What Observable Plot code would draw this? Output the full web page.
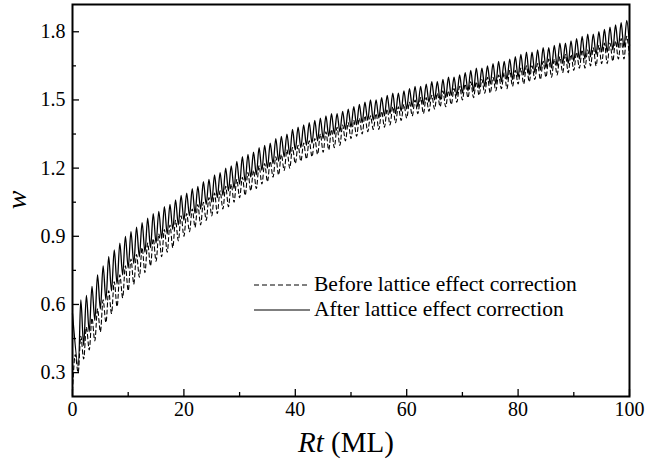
<!DOCTYPE html>
<html><head><meta charset="utf-8">
<script src="https://cdn.jsdelivr.net/npm/d3@7"></script>
<script src="https://cdn.jsdelivr.net/npm/@observablehq/plot@0.6"></script>
<style>
body{margin:0;background:#fff;}
#wrap{position:relative;width:645px;height:470px;font-family:"Liberation Serif","Times New Roman",Times,"DejaVu Serif",serif;color:#000;}
#wrap svg text{font-family:"Liberation Serif","Times New Roman",Times,"DejaVu Serif",serif;}
.lbl{position:absolute;white-space:nowrap;}
</style></head>
<body><div id="wrap"></div>
<script>
// Start values at Rt = 0
const solidStart = 0.56;
const dashedStart = 0.22;
// "After" (solid): troughs at Rt = 1..100, peaks at Rt = 1.5..99.5
const solidTrough = [0.33,0.42,0.48,0.53,0.58,0.62,0.66,0.69,0.73,0.76,
0.78,0.81,0.83,0.85,0.87,0.89,0.91,0.93,0.95,0.97,
0.99,1.00,1.02,1.04,1.05,1.07,1.08,1.10,1.11,1.13,
1.14,1.16,1.17,1.19,1.20,1.22,1.23,1.25,1.26,1.28,
1.29,1.30,1.31,1.32,1.33,1.34,1.35,1.36,1.37,1.38,
1.39,1.40,1.41,1.41,1.42,1.43,1.44,1.44,1.45,1.46,
1.47,1.47,1.48,1.49,1.50,1.50,1.51,1.52,1.52,1.53,
1.54,1.54,1.55,1.56,1.57,1.57,1.58,1.59,1.59,1.60,
1.61,1.61,1.62,1.63,1.64,1.64,1.65,1.66,1.66,1.67,
1.68,1.68,1.69,1.70,1.71,1.71,1.72,1.73,1.73,1.74];
const solidPeak = [0.62,0.64,0.68,0.73,0.77,0.81,0.84,0.87,0.90,0.92,
0.94,0.96,0.98,1.00,1.01,1.03,1.04,1.06,1.08,1.09,
1.11,1.12,1.14,1.15,1.17,1.18,1.20,1.21,1.23,1.25,
1.26,1.27,1.29,1.30,1.31,1.33,1.34,1.35,1.37,1.38,
1.39,1.40,1.41,1.42,1.43,1.44,1.44,1.45,1.46,1.47,
1.48,1.49,1.50,1.50,1.51,1.52,1.53,1.53,1.54,1.55,
1.56,1.56,1.57,1.58,1.58,1.59,1.60,1.60,1.61,1.62,
1.63,1.64,1.64,1.65,1.66,1.67,1.67,1.68,1.69,1.70,
1.71,1.71,1.72,1.73,1.73,1.74,1.75,1.75,1.76,1.77,
1.78,1.79,1.79,1.80,1.81,1.82,1.83,1.84,1.85];
// "Before" (dashed): troughs at Rt = 1..100, peaks at Rt = 0.5..99.5
const dashedTrough = [0.30,0.36,0.40,0.44,0.48,0.52,0.56,0.59,0.63,0.66,
0.69,0.72,0.74,0.77,0.79,0.81,0.83,0.85,0.88,0.90,
0.92,0.94,0.95,0.97,0.99,1.00,1.02,1.03,1.05,1.07,
1.08,1.10,1.11,1.13,1.14,1.16,1.17,1.19,1.20,1.22,
1.23,1.24,1.25,1.26,1.27,1.28,1.29,1.30,1.32,1.33,
1.34,1.35,1.36,1.37,1.37,1.38,1.39,1.40,1.41,1.42,
1.43,1.44,1.44,1.45,1.46,1.47,1.47,1.48,1.49,1.50,
1.51,1.51,1.52,1.53,1.53,1.54,1.55,1.55,1.56,1.57,
1.57,1.58,1.59,1.59,1.60,1.60,1.61,1.62,1.62,1.63,
1.64,1.64,1.65,1.65,1.66,1.66,1.67,1.68,1.68,1.69];
const dashedPeak = [0.38,0.46,0.50,0.54,0.58,0.62,0.66,0.70,0.73,0.77,
0.80,0.82,0.85,0.87,0.89,0.91,0.93,0.95,0.97,0.99,
1.00,1.02,1.04,1.05,1.07,1.09,1.10,1.12,1.13,1.15,
1.16,1.18,1.19,1.21,1.22,1.23,1.25,1.26,1.28,1.29,
1.30,1.31,1.32,1.33,1.35,1.36,1.37,1.38,1.39,1.40,
1.41,1.42,1.43,1.43,1.44,1.45,1.46,1.47,1.47,1.48,
1.49,1.50,1.51,1.51,1.52,1.53,1.54,1.54,1.55,1.56,
1.57,1.58,1.58,1.59,1.60,1.60,1.61,1.62,1.63,1.63,
1.64,1.65,1.65,1.66,1.67,1.68,1.68,1.69,1.70,1.70,
1.71,1.72,1.72,1.73,1.74,1.75,1.75,1.76,1.77,1.78];

const xMajor = [0,20,40,60,80,100];
const xMinor = [10,30,50,70,90];
const yMajor = [0.3,0.6,0.9,1.2,1.5,1.8];
const yMinor = [0.45,0.75,1.05,1.35,1.65];
const legendLabels = ["Before lattice effect correction","After lattice effect correction"];

// Build point tables
const solid = [{x:0,y:solidStart}];
for (let k = 1; k <= 100; k++) {
  solid.push({x:k, y:solidTrough[k-1]});
  if (k <= 99) solid.push({x:k+0.5, y:solidPeak[k-1]});
}
const dashed = [{x:0,y:dashedStart}];
for (let k = 0; k < 100; k++) {
  dashed.push({x:k+0.5, y:dashedPeak[k]});
  dashed.push({x:k+1, y:dashedTrough[k]});
}

const FONT = '"Liberation Serif","Times New Roman",Times,"DejaVu Serif",serif';
const chart = Plot.plot({
  width: 645, height: 470,
  marginLeft: 72, marginRight: 16, marginTop: 4, marginBottom: 74,
  style: {fontFamily: FONT, fontSize: "20px", color: "#000", background: "#fff"},
  x: {domain: [0,100]},
  y: {domain: [0.195, 1.92]},
  marks: [
    Plot.line(dashed, {x:"x", y:"y", curve:"catmull-rom", stroke:"#000", strokeWidth:1.1, strokeDasharray:"4,3"}),
    Plot.line(solid, {x:"x", y:"y", curve:"catmull-rom", stroke:"#000", strokeWidth:1.3}),
    Plot.axisX(xMajor, {tickSize:-7, tickPadding:12, tickFormat: d => d, label:null, strokeWidth:1.3, fontSize:20}),
    Plot.axisX(xMinor, {tickSize:-4, tickFormat: () => "", label:null, strokeWidth:1.3}),
    Plot.axisY(yMajor, {tickSize:-7, tickPadding:14, tickFormat: d => d.toFixed(1), label:null, strokeWidth:1.3, fontSize:20}),
    Plot.axisY(yMinor, {tickSize:-4, tickFormat: () => "", label:null, strokeWidth:1.3}),
    Plot.frame({stroke:"#000", strokeWidth:2})
  ]
});
const wrap = document.getElementById("wrap");
wrap.appendChild(chart);

function addLabel(html, css) {
  const d = document.createElement("div");
  d.className = "lbl";
  d.innerHTML = html;
  Object.assign(d.style, css);
  wrap.appendChild(d);
}
addLabel('<i>Rt</i> (ML)', {left:"298px", top:"426px", fontSize:"29px"});
addLabel('<i>w</i>', {left:"8px", top:"184px", fontSize:"28px", transform:"rotate(-90deg)"});
addLabel('<svg width="58" height="10"><line x1="0" y1="5" x2="56" y2="5" stroke="#000" stroke-width="1" stroke-dasharray="5,3"/></svg> ' + legendLabels[0],
  {left:"254px", top:"272px", fontSize:"21.5px", display:"flex", alignItems:"center", gap:"2px"});
addLabel('<svg width="58" height="10"><line x1="0" y1="5" x2="56" y2="5" stroke="#000" stroke-width="1.2"/></svg> ' + legendLabels[1],
  {left:"254px", top:"297px", fontSize:"21.5px", display:"flex", alignItems:"center", gap:"2px"});
</script>
</body></html>
